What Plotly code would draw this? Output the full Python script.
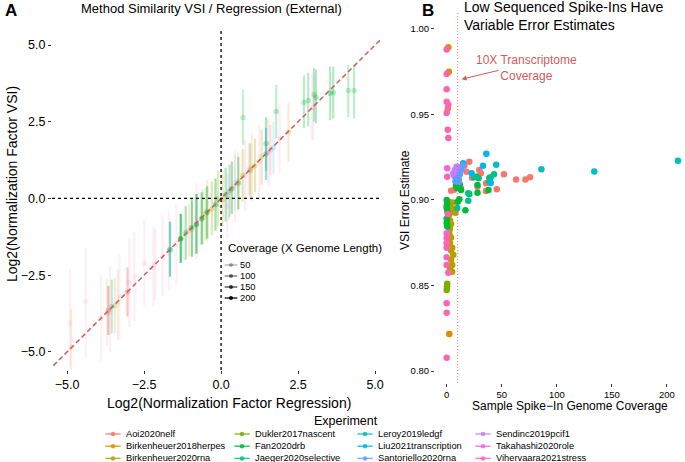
import plotly.graph_objects as go

# ---------------- data ----------------
EXPERIMENTS = ["Aoi2020nelf", "Birkenheuer2018herpes", "Birkenheuer2020rna",
               "Dukler2017nascent", "Fan2020drb", "Jaeger2020selective",
               "Leroy2019ledgf", "Liu2021transcription", "Santoriello2020rna",
               "Sendinc2019pcif1", "Takahashi2020role", "Vihervaara2021stress"]
COLORS = ["#F8766D", "#DE8C00", "#B79F00", "#7CAE00", "#00BA38", "#00C08B",
          "#00BFC4", "#00B4F0", "#619CFF", "#C77CFF", "#F564E3", "#FF64B0"]

# Panel A: regression vs VSI normalization factors (log2) with intervals
A_EXP = (["Aoi2020nelf"] * 5 + ["Birkenheuer2018herpes"] * 5 + ["Birkenheuer2020rna"] * 8 +
         ["Dukler2017nascent"] * 4 + ["Fan2020drb"] * 21 + ["Jaeger2020selective"] * 2 +
         ["Leroy2019ledgf"] + ["Liu2021transcription"] + ["Santoriello2020rna"] +
         ["Sendinc2019pcif1"] + ["Takahashi2020role"] * 2 + ["Vihervaara2021stress"] * 13 +
         ["Vihervaara2021stress"] * 5 + ["Birkenheuer2018herpes"] * 2 + ["Takahashi2020role"])
A_REG = [-3.66, -3.04, 0.92, 1.60, -1.05,
         -4.87, 2.19, -3.35, 0.55, -0.45,
         -0.30, 0.05, 0.70, 1.10, 1.32, -0.95, -3.45, -0.60,
         -0.10, 0.28, -0.50, 0.95,
         -1.31, -0.63, -0.80, -0.95, -0.45, 0.35, 0.56, -0.18, 0.71, 1.79, 2.69, 2.83,
         3.02, 3.08, 3.54, 3.64, 4.13, 4.32, 1.46, -1.15, 0.15,
         -1.66, -3.55,
         1.46,
         1.70,
         0.25,
         0.45,
         -2.14, 0.20,
         -4.90, -4.39, -3.90, -2.98, -2.81, -2.49, -1.90, -1.45, 0.78, 1.54, 2.97, -0.80, -3.30,
         -2.20, -1.70, -3.60, 0.45, 1.25,
         -3.70, 1.00,
         1.90]
A_VSI = [-3.65, -3.05, 0.95, 1.58, -1.05,
         -4.85, 2.16, -3.40, 0.57, -0.40,
         -0.34, -0.05, 0.75, 1.07, 1.35, -1.00, -3.50, -0.62,
         0.00, 0.25, -0.50, 0.90,
         -1.31, -0.66, -0.85, -0.95, -0.45, 0.32, 0.50, -0.20, 2.64, 2.83, 3.13, 3.19,
         3.38, 3.29, 3.42, 3.45, 3.52, 3.52, 1.79, -1.12, 0.12,
         -1.67, -3.52,
         1.46,
         1.65,
         0.20,
         0.50,
         -2.13, -0.25,
         -4.07, -3.36, -3.90, -2.75, -2.56, -2.11, -1.88, -1.50, 0.75, 1.51, 2.96, -0.75, -3.20,
         -2.25, -1.75, -3.70, 0.40, 1.20,
         -3.75, 1.00,
         1.95]
A_LO = [-4.45, -3.85, 0.10, 0.75, -1.90,
        -6.00, 1.20, -4.60, -0.40, -1.40,
        -1.20, -0.90, -0.10, 0.20, 0.45, -1.90, -4.40, -1.50,
        -0.90, -0.60, -1.35, 0.00,
        -2.10, -1.50, -1.80, -1.90, -1.30, -0.50, -0.35, -1.05, 1.75, 1.95, 2.30, 2.35,
        2.50, 2.45, 2.55, 2.60, 2.65, 2.60, 0.90, -2.00, -0.75,
        -2.55, -4.40,
        0.60,
        0.80,
        -0.70,
        -0.40,
        -3.30, -1.30,
        -5.50, -5.20, -5.30, -4.20, -4.00, -3.50, -3.20, -2.80, -0.40, 0.40, 1.90, -2.00, -4.60,
        -3.50, -3.00, -5.00, -0.80, 0.00,
        -4.80, -0.10,
        0.80]
A_HI = [-2.85, -2.25, 1.80, 2.40, -0.20,
        -3.60, 3.10, -2.30, 1.50, 0.60,
        0.55, 0.80, 1.60, 1.95, 2.25, -0.10, -2.60, 0.30,
        0.90, 1.10, 0.35, 1.80,
        -0.50, 0.20, 0.15, 0.00, 0.40, 1.20, 1.35, 0.65, 3.55, 3.70, 4.00, 4.10,
        4.25, 4.20, 4.30, 4.30, 4.35, 4.35, 2.65, -0.25, 1.00,
        -0.75, -2.65,
        2.30,
        2.50,
        1.10,
        1.40,
        -1.00, 0.80,
        -2.30, -1.60, -2.50, -1.30, -1.10, -0.70, -0.50, -0.20, 1.90, 2.60, 4.10, 0.50, -1.80,
        -0.90, -0.40, -2.20, 1.60, 2.40,
        -2.60, 2.10,
        3.10]
A_COV = [95, 75, 35, 30, 25,
         8, 20, 8, 15, 12,
         45, 35, 45, 40, 30, 25, 20, 30,
         35, 40, 30, 25,
         140, 90, 120, 70, 75, 65, 60, 70, 30, 35, 40, 40, 45, 45, 45, 45, 35, 35, 55, 60, 55,
         110, 40,
         80,
         15,
         15,
         12,
         3, 4,
         1, 1, 2, 2, 2, 2, 3, 3, 8, 10, 18, 4, 1,
         2, 3, 2, 4, 5,
         6, 10,
         6]

# Panel B: spike-in genome coverage vs VSI error estimate
B_EXP = (["Aoi2020nelf"] * 19 + ["Birkenheuer2018herpes"] * 3 + ["Birkenheuer2020rna"] * 23 +
         ["Dukler2017nascent"] * 5 + ["Fan2020drb"] * 20 + ["Jaeger2020selective"] * 8 +
         ["Leroy2019ledgf"] * 4 + ["Liu2021transcription"] * 5 + ["Santoriello2020rna"] * 13 +
         ["Sendinc2019pcif1"] * 3 + ["Takahashi2020role"] * 2 + ["Vihervaara2021stress"] * 19)
B_COV = [1, 20.5, 16, 29.6, 31, 52, 63, 71.5, 75.7, 23, 35.7, 45.5, 4, 13, 35.7, 38.7, 28, 7, 18,
         1.5, 2, 2.4,
         2, 3, 4.5, 5, 2, 3, 6, 4, 3, 2.5, 4, 3, 5, 4, 6, 4, 5, 3, 5, 2, 8, 1.5, 5.5,
         0.5, 0, 0.3, 0, 0.5,
         0, 0, 0.5, 1, 0, 0.5, 0, 9, 13, 28, 28, 20.5, 38, 11.5, 10, 17, 8.5, 27, 39, 12,
         25, 29, 40, 38.7, 19.6, 9.6, 19.6, 43,
         45, 86, 134, 210,
         36, 33, 22.7, 40, 15,
         8, 10, 12, 9, 11, 8, 10, 13, 12, 15, 7, 11, 9.5,
         7.5, 6, 9,
         0.5, 0,
         0, 0, 0, 0, 1.5, 0, 1, 1.5, 0.5, 1, 0, 0, 0, 0, 1.5, 0, 0, 0, 0]
B_ERR = [0.9534, 0.9224, 0.9200, 0.9175, 0.9156, 0.9150, 0.9120, 0.9120, 0.9133, 0.9130,
         0.9098, 0.9063, 0.9054, 0.9068, 0.9053, 0.9127, 0.9078, 0.9060, 0.9165,
         0.9893, 0.9750, 0.8216,
         0.8990, 0.8970, 0.8950, 0.8930, 0.8910, 0.8880, 0.8935, 0.8860, 0.8830, 0.8800,
         0.8780, 0.8750, 0.8720, 0.8705, 0.8680, 0.8650, 0.8620, 0.8600, 0.8580, 0.8850,
         0.8925, 0.8940, 0.8985,
         0.8510, 0.8474, 0.8495, 0.8965, 0.8935,
         0.9000, 0.8955, 0.8980, 0.8925, 0.8890, 0.8845, 0.8865, 0.9072, 0.9058, 0.9088,
         0.9043, 0.9035, 0.9058, 0.9004, 0.8990, 0.8940, 0.9088, 0.9136, 0.9130, 0.9090,
         0.9133, 0.9127, 0.9133, 0.9107, 0.8996, 0.8953, 0.9040, 0.9150,
         0.9206, 0.9180, 0.9166, 0.9230,
         0.9270, 0.9200, 0.9156, 0.9100, 0.9215,
         0.9170, 0.9160, 0.9150, 0.9130, 0.9120, 0.9110, 0.9140, 0.9175, 0.9190, 0.9205,
         0.9140, 0.9105, 0.9155,
         0.9175, 0.9155, 0.9195,
         0.9185, 0.8805,
         0.9880, 0.9737, 0.9647, 0.9575, 0.9557, 0.9509, 0.9410, 0.9363, 0.9136, 0.8918,
         0.8777, 0.8747, 0.8665, 0.8620, 0.8575, 0.8396, 0.8340, 0.8078, 0.8720]

COV_BREAKS = [50, 100, 150, 200]
COVERAGE_THRESHOLD = 10          # 10X transcriptome coverage line
ABLINE_X = [-6, 6]               # identity line extent

# ---------------- styling helpers ----------------
FONT = "Liberation Sans"
RED = "#CD5C5C"
W, H = 685, 462
COV_MIN, COV_MAX = 0, max(B_COV)


def alpha_of(cov):
    return 0.1 + 0.9 * (cov - COV_MIN) / (COV_MAX - COV_MIN)


def rgba(hexcol, a):
    h = hexcol.lstrip("#")
    r, g, b = int(h[0:2], 16), int(h[2:4], 16), int(h[4:6], 16)
    return f"rgba({r},{g},{b},{a:.3f})"


def px(x):
    return x / W


def py(y):
    return 1 - y / H


fig = go.Figure()

# ---------------- panel A ----------------
for i in range(len(A_REG)):
    col = COLORS[EXPERIMENTS.index(A_EXP[i])]
    c = rgba(col, alpha_of(A_COV[i]))
    fig.add_trace(go.Scatter(
        x=[A_REG[i]], y=[A_VSI[i]], mode="markers",
        marker=dict(color=c, size=5.5, line=dict(width=0)),
        error_y=dict(type="data", symmetric=False,
                     array=[A_HI[i] - A_VSI[i]], arrayminus=[A_VSI[i] - A_LO[i]],
                     color=c, thickness=2.2, width=0),
        xaxis="x", yaxis="y", showlegend=False, hoverinfo="skip"))

fig.add_trace(go.Scatter(x=ABLINE_X, y=[v for v in ABLINE_X], mode="lines",
                         line=dict(color=RED, width=1.5, dash="5px,3px"),
                         xaxis="x", yaxis="y", showlegend=False, hoverinfo="skip"))

# ---------------- panel B ----------------
for exp, col in zip(EXPERIMENTS, COLORS):
    xs = [B_COV[i] for i in range(len(B_COV)) if B_EXP[i] == exp]
    ys = [B_ERR[i] for i in range(len(B_ERR)) if B_EXP[i] == exp]
    fig.add_trace(go.Scatter(x=xs, y=ys, mode="markers",
                             marker=dict(color=col, size=6.5, line=dict(width=0)),
                             xaxis="x2", yaxis="y2", name=exp, showlegend=False))

# ---------------- legends (drawn on an overlay axis in pixel units) ----------------
LEG_COL_X = [113, 242, 365, 483]
LEG_ROW_Y0, LEG_ROW_DY = 434, 12.2
gx, gy = [], []
for i, exp in enumerate(EXPERIMENTS):
    gx.append(LEG_COL_X[i // 3])
    gy.append(LEG_ROW_Y0 + (i % 3) * LEG_ROW_DY)
leg_cols = [rgba(c, 0.85) for c in COLORS]
fig.add_trace(go.Scatter(x=gx, y=gy, mode="markers",
                         marker=dict(symbol="line-ew", size=11, line=dict(color=leg_cols, width=1.4)),
                         xaxis="x3", yaxis="y3", showlegend=False, hoverinfo="skip"))
fig.add_trace(go.Scatter(x=gx, y=gy, mode="markers",
                         marker=dict(size=4.5, color=leg_cols),
                         xaxis="x3", yaxis="y3", showlegend=False, hoverinfo="skip"))

CL_X, CL_Y0, CL_DY = 231, 265, 11
cx = [CL_X] * len(COV_BREAKS)
cy = [CL_Y0 + k * CL_DY for k in range(len(COV_BREAKS))]
ccols = [rgba("#000000", alpha_of(b)) for b in COV_BREAKS]
fig.add_trace(go.Scatter(x=cx, y=cy, mode="markers",
                         marker=dict(symbol="line-ew", size=9, line=dict(color=ccols, width=1.3)),
                         xaxis="x3", yaxis="y3", showlegend=False, hoverinfo="skip"))
fig.add_trace(go.Scatter(x=cx, y=cy, mode="markers",
                         marker=dict(size=4, color=ccols),
                         xaxis="x3", yaxis="y3", showlegend=False, hoverinfo="skip"))

annotations = []
for i, exp in enumerate(EXPERIMENTS):
    annotations.append(dict(text=exp, x=px(gx[i] + 11), y=py(gy[i]), xref="paper", yref="paper",
                            xanchor="left", yanchor="middle", showarrow=False,
                            font=dict(size=9.3, color="#000")))
annotations.append(dict(text="Experiment", x=px(346), y=py(421), xref="paper", yref="paper",
                        xanchor="center", yanchor="middle", showarrow=False,
                        font=dict(size=12.5, color="#000")))
annotations.append(dict(text="Coverage (X Genome Length)", x=px(226), y=py(248), xref="paper",
                        yref="paper", xanchor="left", yanchor="middle", showarrow=False,
                        font=dict(size=11.5, color="#000")))
for k, b in enumerate(COV_BREAKS):
    annotations.append(dict(text=str(b), x=px(CL_X + 7), y=py(cy[k]), xref="paper", yref="paper",
                            xanchor="left", yanchor="middle", showarrow=False,
                            font=dict(size=9.3, color="#000")))

# titles / labels
annotations += [
    dict(text="<b>A</b>", x=px(11), y=py(10), xref="paper", yref="paper", showarrow=False,
         xanchor="center", yanchor="middle", font=dict(size=17, color="#000")),
    dict(text="Method Similarity VSI / Regression (External)", x=px(211), y=py(9),
         xref="paper", yref="paper", showarrow=False, xanchor="center", yanchor="middle",
         font=dict(size=13, color="#000")),
    dict(text="<b>B</b>", x=px(428), y=py(10), xref="paper", yref="paper", showarrow=False,
         xanchor="center", yanchor="middle", font=dict(size=17, color="#000")),
    dict(text="Low Sequenced Spike-Ins Have<br>Variable Error Estimates", x=px(462), y=py(16),
         xref="paper", yref="paper", showarrow=False, xanchor="left", yanchor="middle",
         align="left", font=dict(size=14, color="#000")),
    dict(text="Log2(Normalization Factor Regression)", x=px(229), y=py(403), xref="paper",
         yref="paper", showarrow=False, xanchor="center", yanchor="middle",
         font=dict(size=14, color="#000")),
    dict(text="Log2(Normalization Factor VSI)", x=px(12), y=py(184), xref="paper", yref="paper",
         showarrow=False, textangle=-90, xanchor="center", yanchor="middle",
         font=dict(size=14, color="#000")),
    dict(text="Sample Spike\u2212In Genome Coverage", x=px(570), y=py(406), xref="paper",
         yref="paper", showarrow=False, xanchor="center", yanchor="middle",
         font=dict(size=12, color="#000")),
    dict(text="VSI Error Estimate", x=px(405), y=py(200), xref="paper", yref="paper",
         showarrow=False, textangle=-90, xanchor="center", yanchor="middle",
         font=dict(size=12, color="#000")),
    dict(text="10X Transcriptome<br>Coverage", x=72.7, y=0.9769, xref="x2", yref="y2",
         showarrow=False, xanchor="center", yanchor="middle", align="center",
         font=dict(size=12, color=RED)),
    dict(text="", x=13.6, y=0.9706, xref="x2", yref="y2", ax=48.5, ay=0.976,
         axref="x2", ayref="y2", showarrow=True, arrowhead=2, arrowsize=1,
         arrowwidth=1, arrowcolor=RED),
]

shapes = [
    dict(type="line", xref="x", yref="y domain", x0=0, x1=0, y0=0, y1=1,
         line=dict(color="#000", width=1.3, dash="dot")),
    dict(type="line", xref="x domain", yref="y", x0=0, x1=1, y0=0, y1=0,
         line=dict(color="#000", width=1.3, dash="dot")),
    dict(type="line", xref="x2", yref="y2 domain", x0=COVERAGE_THRESHOLD, x1=COVERAGE_THRESHOLD,
         y0=0, y1=1, line=dict(color=RED, width=0.8, dash="1px,2px")),
]

axis_common = dict(showgrid=False, zeroline=False, showline=False, ticks="outside",
                   ticklen=3, tickcolor="#333", tickwidth=1)

fig.update_layout(
    width=W, height=H, margin=dict(l=0, r=0, t=0, b=0, autoexpand=False),
    paper_bgcolor="white", plot_bgcolor="rgba(0,0,0,0)",
    font=dict(family=FONT, color="#000"),
    showlegend=False,
    xaxis=dict(domain=[px(52), px(380)], range=[-5.49, 5.16], anchor="y",
               tickvals=[-5, -2.5, 0, 2.5, 5], tickformat=".1f",
               tickfont=dict(size=12.5, color="#000"), **axis_common),
    yaxis=dict(domain=[py(370), py(30)], range=[-5.59, 5.49], anchor="x",
               tickvals=[-5, -2.5, 0, 2.5, 5], tickformat=".1f",
               tickfont=dict(size=12.5, color="#000"), **axis_common),
    xaxis2=dict(domain=[px(435), px(684)], range=[-10.6, 215.5], anchor="y2",
                tickvals=[0, 50, 100, 150, 200],
                tickfont=dict(size=9.5, color="#000"), **axis_common),
    yaxis2=dict(domain=[py(383), py(12)], range=[0.793, 1.0099], anchor="x2",
                tickvals=[0.80, 0.85, 0.90, 0.95, 1.00], tickformat=".2f",
                tickfont=dict(size=9.5, color="#000"), **axis_common),
    xaxis3=dict(domain=[0, 1], range=[0, W], anchor="y3", visible=False, fixedrange=True),
    yaxis3=dict(domain=[0, 1], range=[H, 0], anchor="x3", visible=False, fixedrange=True),
    annotations=annotations, shapes=shapes,
)

fig.write_html("out.html", config={"displayModeBar": False},
               post_script="document.body.style.margin='0px';")
